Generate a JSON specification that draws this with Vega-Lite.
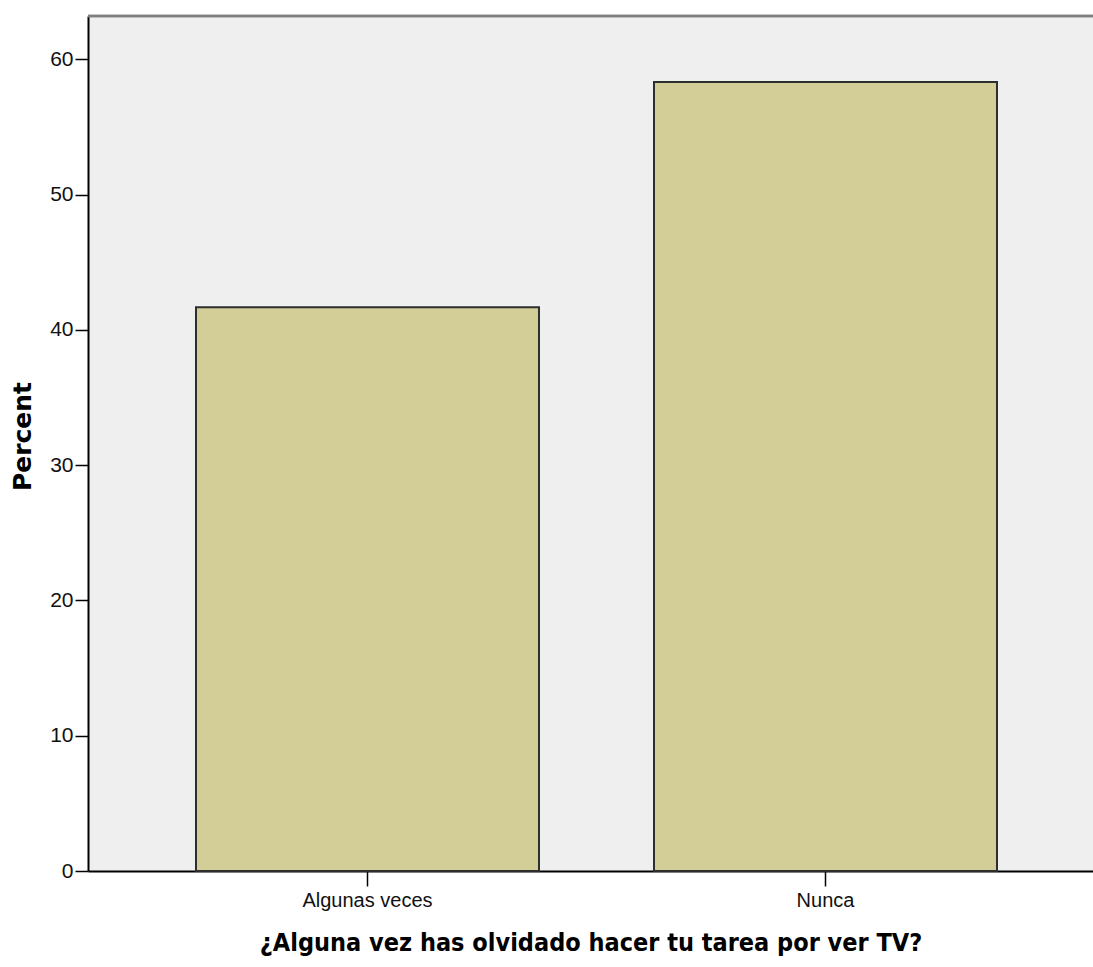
{
  "$schema": "https://vega.github.io/schema/vega-lite/v6.json",
  "width": 1005,
  "height": 855,
  "autosize": {"type": "none"},
  "padding": {"left": 88, "top": 16, "right": 0, "bottom": 96},
  "background": "white",
  "config": {
    "view": {"stroke": null, "fill": "#efefef"},
    "axis": {"grid": false}
  },
  "data": {
    "values": [
      {"respuesta": "Algunas veces", "percent": 41.67},
      {"respuesta": "Nunca", "percent": 58.33}
    ]
  },
  "layer": [
    {
      "mark": {"type": "bar", "fill": "#d3ce98", "stroke": "#2e2e2e", "strokeWidth": 2},
      "encoding": {
        "x": {
          "field": "respuesta",
          "type": "nominal",
          "sort": null,
          "scale": {"paddingInner": 0.2511, "paddingOuter": 0.2227, "align": 0.5294},
          "axis": {
            "title": "¿Alguna vez has olvidado hacer tu tarea por ver TV?",
            "titleFont": "DejaVu Sans Condensed",
            "titleFontWeight": "bold",
            "titleFontSize": 25,
            "titleColor": "#000000",
            "titlePadding": 20,
            "labelFont": "Liberation Sans",
            "labelFontSize": 20,
            "labelColor": "#111111",
            "labelAngle": 0,
            "labelPadding": 4,
            "tickSize": 15,
            "tickColor": "#000000",
            "tickWidth": 1.5,
            "domainColor": "#000000",
            "domainWidth": 2
          }
        },
        "y": {
          "field": "percent",
          "type": "quantitative",
          "scale": {"domain": [0, 63.2], "nice": false, "zero": true},
          "axis": {
            "title": "Percent",
            "titleFont": "DejaVu Sans",
            "titleFontWeight": "bold",
            "titleFontSize": 25,
            "titleColor": "#000000",
            "titlePadding": 14,
            "titleY": 420,
            "values": [0, 10, 20, 30, 40, 50, 60],
            "labelFont": "Liberation Sans",
            "labelFontSize": 21,
            "labelColor": "#111111",
            "labelPadding": 2,
            "tickSize": 13,
            "tickColor": "#000000",
            "tickWidth": 1.5,
            "domainColor": "#000000",
            "domainWidth": 2
          }
        }
      }
    },
    {
      "mark": {"type": "rule", "color": "#808080", "strokeWidth": 2.5},
      "encoding": {"y": {"datum": 63.2, "type": "quantitative"}}
    }
  ]
}
